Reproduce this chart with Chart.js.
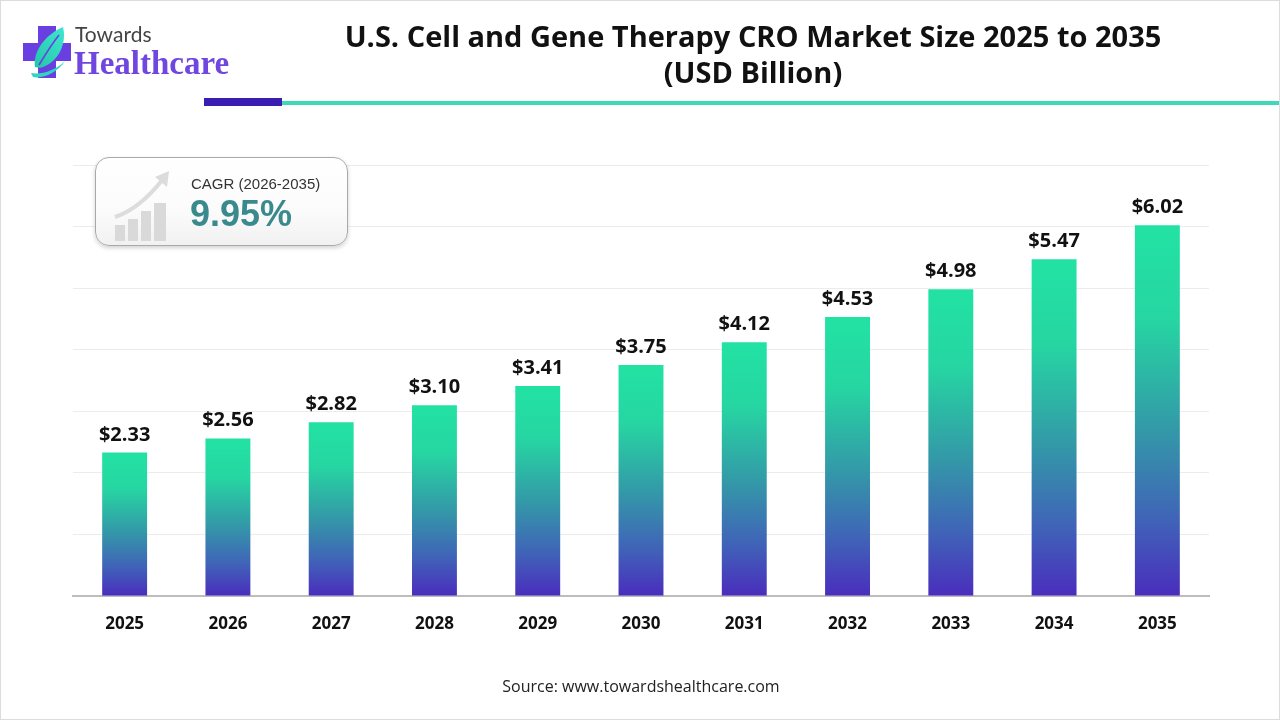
<!DOCTYPE html>
<html>
<head>
<meta charset="utf-8">
<script src="https://cdn.jsdelivr.net/npm/chart.js@4.4.1/dist/chart.umd.min.js"></script>
<style>
  html,body{margin:0;padding:0;background:#fff;}
  #wrap{position:relative;width:1280px;height:720px;overflow:hidden;background:#fff;box-sizing:border-box;border:1px solid #dcdcdc;}
  #c{position:absolute;left:0;top:0;}
  .abs{position:absolute;}
  #title{left:300px;width:904px;top:17px;text-align:center;font-family:"Open Sans",sans-serif;font-weight:700;font-size:29px;line-height:36px;color:#111;}
  #towards{left:74px;top:20px;font-family:"Lato","Open Sans",sans-serif;font-size:21px;color:#444;font-weight:400;}
  #health{left:73px;top:44px;font-family:"Liberation Serif","DejaVu Serif",serif;font-size:33px;font-weight:700;color:#7046e0;letter-spacing:0px;}
  #bar1{left:203px;top:97px;width:78px;height:8px;background:#3a1eb2;}
  #bar2{left:281px;top:100px;width:1000px;height:4px;background:#3fd8ba;}
  #cagr{left:94px;top:156px;width:253px;height:89px;box-sizing:border-box;border:1.5px solid #a9a9a9;border-radius:14px;background:linear-gradient(#ffffff,#fbfbfb 60%,#f1f1f1);box-shadow:0 2px 4px rgba(0,0,0,0.18);}
  #cagrT{left:190px;top:174px;font-family:"Liberation Sans",Arial,sans-serif;font-size:15px;color:#333;}
  #cagrV{left:189px;top:192px;font-family:"Liberation Sans",Arial,sans-serif;font-size:36px;font-weight:700;color:#3a8a8d;}
  #src{left:0;width:1280px;top:674px;text-align:center;font-family:"Open Sans",sans-serif;font-size:16px;color:#222;letter-spacing:0px;}
</style>
</head>
<body>
<div id="wrap">
  <canvas id="c" width="1280" height="720"></canvas>
  <svg class="abs" style="left:20px;top:22px" width="56" height="58" viewBox="0 0 56 58">
    <defs>
      <linearGradient id="lf" x1="0" y1="1" x2="1" y2="0">
        <stop offset="0" stop-color="#22c6a8"/>
        <stop offset="1" stop-color="#3fe6d0"/>
      </linearGradient>
    </defs>
    <path d="M17 3 H35 V20 H50 V38 H35 V55 H17 V38 H2 V20 H17 Z" fill="#6a3fe2"/>
    <path d="M14 44 C12 28 24 12 42 4 C46 20 38 38 22 44 C20 45 17 45 14 44 Z" fill="url(#lf)"/>
    <path d="M10 50 C20 52 34 48 44 38 C36 50 22 56 12 54 Z" fill="#2fd6c0"/>
    <path d="M18 42 C24 32 30 22 38 12" stroke="#6a3fe2" stroke-width="1.6" fill="none"/>
  </svg>
  <div id="towards" class="abs">Towards</div>
  <div id="health" class="abs">Healthcare</div>
  <div id="title" class="abs">U.S. Cell and Gene Therapy CRO Market Size 2025 to 2035<br>(USD Billion)</div>
  <div id="bar1" class="abs"></div>
  <div id="bar2" class="abs"></div>
  <div id="cagr" class="abs"></div>
  <svg class="abs" style="left:110px;top:166px" width="66" height="76" viewBox="0 0 66 76">
    <g fill="#d9d9d9">
      <rect x="4" y="58" width="10" height="16"/>
      <rect x="17" y="52" width="10" height="22"/>
      <rect x="30" y="44" width="10" height="30"/>
      <rect x="43" y="36" width="12" height="38"/>
    </g>
    <path d="M4 50 C22 44 38 30 52 12" stroke="#dcdcdc" stroke-width="4" fill="none"/>
    <path d="M44 10 L58 4 L56 20 Z" fill="#dcdcdc"/>
  </svg>
  <div id="cagrT" class="abs">CAGR (2026-2035)</div>
  <div id="cagrV" class="abs">9.95%</div>
  <div id="src" class="abs">Source: www.towardshealthcare.com</div>
</div>
<script>
const years = ["2025","2026","2027","2028","2029","2030","2031","2032","2033","2034","2035"];
const marketSize = [2.33, 2.56, 2.82, 3.10, 3.41, 3.75, 4.12, 4.53, 4.98, 5.47, 6.02];
const yTicks = [0,1,2,3,4,5,6,7];

function barGradient(ctx){
  const chart = ctx.chart;
  const ys = chart.scales && chart.scales.y;
  if(!chart.chartArea || !ys || ctx.type !== 'data') return '#2fb0a8';
  const top = ys.getPixelForValue(ctx.raw);
  const bot = ys.getPixelForValue(0);
  const g = chart.ctx.createLinearGradient(0, top, 0, bot);
  g.addColorStop(0, '#22e2a3');
  g.addColorStop(0.25, '#26d6a2');
  g.addColorStop(0.55, '#3399a8');
  g.addColorStop(0.8, '#4062b8');
  g.addColorStop(1, '#4a2dbd');
  return g;
}

const labelPlugin = {
  id:'valLabels',
  afterDatasetsDraw(chart){
    const c = chart.ctx;
    const meta = chart.getDatasetMeta(0);
    c.save();
    c.font = '700 20px "Open Sans", sans-serif';
    c.fillStyle = '#111';
    c.textAlign = 'center';
    c.textBaseline = 'alphabetic';
    meta.data.forEach((el,i)=>{
      c.fillText('$' + marketSize[i].toFixed(2), el.x, el.y - 12);
    });
    c.restore();
  }
};

new Chart(document.getElementById('c'), {
  type:'bar',
  data:{
    labels: years,
    datasets:[{
      data: marketSize,
      backgroundColor: barGradient,
      borderWidth:0,
      barPercentage:0.435,
      categoryPercentage:1
    }]
  },
  options:{
    responsive:false,
    animation:false,
    devicePixelRatio:1,
    layout:{padding:{left:72,right:72,top:164,bottom:0}},
    plugins:{legend:{display:false},tooltip:{enabled:false}},
    scales:{
      x:{
        grid:{display:false, drawTicks:false},
        border:{display:true,color:'#bdbdbd',width:2},
        ticks:{color:'#111',font:{family:'"Open Sans", sans-serif',size:17,weight:'700'},padding:18},
        afterFit(s){ s.height = 125; }
      },
      y:{
        min:0,max:7,
        afterBuildTicks(s){ s.ticks = yTicks.map(v=>({value:v})); },
        ticks:{display:false},
        grid:{color:'#ececec',lineWidth:1,drawTicks:false},
        border:{display:false},
        afterFit(s){ s.width = 0; }
      }
    }
  },
  plugins:[labelPlugin]
});
</script>
</body>
</html>
